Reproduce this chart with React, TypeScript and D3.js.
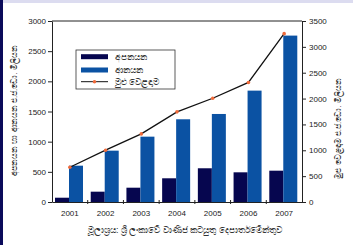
import React, { useRef, useEffect } from 'react';
import * as d3 from 'd3';

const years = ['2001', '2002', '2003', '2004', '2005', '2006', '2007'];
const exportsVals = [71, 171, 237, 393, 559, 492, 519];
const importsVals = [602, 851, 1083, 1371, 1459, 1846, 2758];
const totalVals = [672, 1002, 1317, 1743, 2006, 2312, 3255];
const leftTicks = [0, 500, 1000, 1500, 2000, 2500, 3000];
const rightTicks = [0, 500, 1000, 1500, 2000, 2500, 3000, 3500];

const legendLabels = ['අපනයන', 'ආනයන', 'මුළු වෙළඳාම'];
const leftTitle = 'අපනයන හා ආනයන එ.ජ.ඩො. මිලියන';
const rightTitle = 'මුළු වෙළඳාම එ.ජ.ඩො. මිලියන';
const sourceText = 'මූලාශ්‍රය: ශ්‍රී ලංකාවේ වාණිජ කටයුතු දෙපාර්තමේන්තුව';

const W = 353, H = 245;
const DARK = '#06064f';
const BLUE = '#0b52a3';
const FONT = '"Liberation Sans", Arial, sans-serif';

const App = () => {
  const svgRef = useRef<SVGSVGElement>(null);

  useEffect(() => {
    const svg = d3.select(svgRef.current);
    svg.selectAll('*').remove();

    const margin = { top: 21, right: 51, bottom: 43, left: 52 };
    const innerWidth = W - margin.left - margin.right;
    const innerHeight = H - margin.top - margin.bottom;

    // background + frame strips
    svg.append('rect').attr('width', W).attr('height', H).attr('fill', '#fff');
    svg.append('rect').attr('width', W).attr('height', 3).attr('fill', '#dcdcf0');
    svg.append('rect').attr('width', 3).attr('height', H).attr('fill', '#0a0a5a');

    const x = d3.scaleBand().domain(years).range([0, innerWidth]).padding(0);
    const xSub = d3.scaleBand().domain(['exp', 'imp']).range([3, 31]).padding(0);
    const yL = d3.scaleLinear().domain([0, 3000]).range([innerHeight, 0]);
    const yR = d3.scaleLinear().domain([0, 3500]).range([innerHeight, 0]);

    const g = svg.append('g').attr('transform', `translate(${margin.left}, ${margin.top})`);

    // bars
    g.selectAll('rect.exp')
      .data(years)
      .join('rect')
      .attr('class', 'exp')
      .attr('x', d => x(d) + xSub('exp'))
      .attr('width', xSub.bandwidth())
      .attr('y', (d, i) => yL(exportsVals[i]))
      .attr('height', (d, i) => innerHeight - yL(exportsVals[i]))
      .attr('fill', DARK);

    g.selectAll('rect.imp')
      .data(years)
      .join('rect')
      .attr('class', 'imp')
      .attr('x', d => x(d) + xSub('imp'))
      .attr('width', xSub.bandwidth())
      .attr('y', (d, i) => yL(importsVals[i]))
      .attr('height', (d, i) => innerHeight - yL(importsVals[i]))
      .attr('fill', BLUE);

    // total line
    const line = d3.line<number>()
      .x((d, i) => x(years[i]) + x.bandwidth() / 2)
      .y(d => yR(d));
    g.append('path')
      .datum(totalVals)
      .attr('d', line)
      .attr('fill', 'none')
      .attr('stroke', '#111')
      .attr('stroke-width', 1.3);
    g.selectAll('circle')
      .data(totalVals)
      .join('circle')
      .attr('cx', (d, i) => x(years[i]) + x.bandwidth() / 2)
      .attr('cy', d => yR(d))
      .attr('r', 1.8)
      .attr('fill', '#f06a3a');

    // frame top
    g.append('line').attr('x1', 0).attr('x2', innerWidth).attr('y1', 0).attr('y2', 0)
      .attr('stroke', '#222').attr('stroke-width', 1);

    const styleAxis = (sel) => {
      sel.selectAll('path').attr('stroke', '#222');
      sel.selectAll('line').attr('stroke', '#222');
      sel.selectAll('text').attr('font-family', FONT).attr('font-size', 8).attr('fill', '#222');
    };

    const fmt = d3.format('d');
    g.append('g').call(d3.axisLeft(yL).tickValues(leftTicks).tickFormat(fmt).tickSize(4).tickSizeOuter(0).tickPadding(2)).call(styleAxis);
    g.append('g').attr('transform', `translate(${innerWidth},0)`)
      .call(d3.axisRight(yR).tickValues(rightTicks).tickFormat(fmt).tickSize(4).tickSizeOuter(0).tickPadding(3)).call(styleAxis);

    const xAxis = g.append('g').attr('transform', `translate(0, ${innerHeight})`)
      .call(d3.axisBottom(x).tickSize(0).tickPadding(8)).call(styleAxis);
    // ticks between categories
    xAxis.selectAll('line.sep')
      .data(years.slice(1))
      .join('line')
      .attr('class', 'sep')
      .attr('x1', d => x(d)).attr('x2', d => x(d))
      .attr('y1', -2).attr('y2', 2)
      .attr('stroke', '#222');

    // axis titles
    svg.append('text')
      .attr('transform', `translate(17, ${margin.top + innerHeight / 2 - 1}) rotate(-90)`)
      .attr('text-anchor', 'middle')
      .attr('font-size', 8)
      .attr('fill', '#333')
      .text(leftTitle);
    svg.append('text')
      .attr('transform', `translate(341, ${margin.top + innerHeight / 2 + 17}) rotate(-90)`)
      .attr('text-anchor', 'middle')
      .attr('font-size', 8)
      .attr('fill', '#333')
      .text(rightTitle);

    // source
    svg.append('text')
      .attr('x', 185).attr('y', 233)
      .attr('text-anchor', 'middle')
      .attr('font-size', 9)
      .attr('fill', '#333')
      .text(sourceText);

    // legend
    const legend = svg.append('g').attr('transform', 'translate(76, 50)');
    legend.append('rect').attr('width', 99).attr('height', 39)
      .attr('fill', '#fff').attr('stroke', '#333').attr('stroke-width', 0.8);
    const rows = [6.7, 20, 31.7];
    legend.append('rect').attr('x', 5).attr('y', rows[0] - 2.5).attr('width', 27).attr('height', 5).attr('fill', DARK);
    legend.append('rect').attr('x', 5).attr('y', rows[1] - 2.5).attr('width', 27).attr('height', 5).attr('fill', BLUE);
    legend.append('line').attr('x1', 5).attr('x2', 32).attr('y1', rows[2]).attr('y2', rows[2])
      .attr('stroke', '#111').attr('stroke-width', 1);
    legend.append('circle').attr('cx', 18.5).attr('cy', rows[2]).attr('r', 1.8).attr('fill', '#f06a3a');
    legend.selectAll('text.lbl')
      .data(legendLabels)
      .join('text')
      .attr('class', 'lbl')
      .attr('x', 39)
      .attr('y', (d, i) => rows[i])
      .attr('dy', '.35em')
      .attr('font-size', 8.5)
      .attr('fill', '#333')
      .text(d => d);
  }, []);

  return (
    <svg ref={svgRef} width={W} height={H}
      style={{ position: 'absolute', left: 0, top: 0, fontFamily: FONT }}></svg>
  );
};

export default App;
